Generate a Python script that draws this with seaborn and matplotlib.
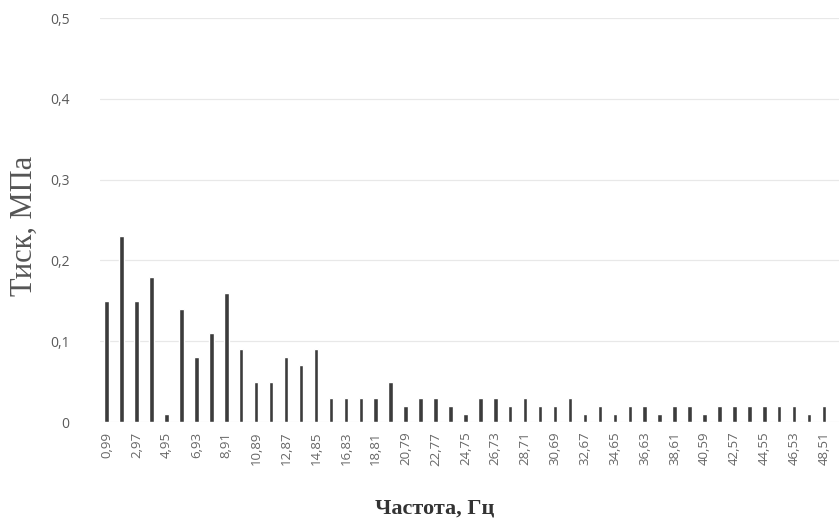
import matplotlib
matplotlib.use("Agg")
import matplotlib.pyplot as plt
import seaborn as sns

# Частоти (Гц) та тиск (МПа)
freqs = [0.99, 1.98, 2.97, 3.96, 4.95, 5.94, 6.93, 7.92, 8.91, 9.90,
         10.89, 11.88, 12.87, 13.86, 14.85, 15.84, 16.83, 17.82, 18.81, 19.80,
         20.79, 21.78, 22.77, 23.76, 24.75, 25.74, 26.73, 27.72, 28.71, 29.70,
         30.69, 31.68, 32.67, 33.66, 34.65, 35.64, 36.63, 37.62, 38.61, 39.60,
         40.59, 41.58, 42.57, 43.56, 44.55, 45.54, 46.53, 47.52, 48.51]
pressure = [0.15, 0.23, 0.15, 0.18, 0.01, 0.14, 0.08, 0.11, 0.16, 0.09,
            0.05, 0.05, 0.08, 0.07, 0.09, 0.03, 0.03, 0.03, 0.03, 0.05,
            0.02, 0.03, 0.03, 0.02, 0.01, 0.03, 0.03, 0.02, 0.03, 0.02,
            0.02, 0.03, 0.01, 0.02, 0.01, 0.02, 0.02, 0.01, 0.02, 0.02,
            0.01, 0.02, 0.02, 0.02, 0.02, 0.02, 0.02, 0.01, 0.02]
y_ticks = [0, 0.1, 0.2, 0.3, 0.4, 0.5]

labels = [f"{f:.2f}".replace(".", ",") for f in freqs]

sns.set_style("white")
fig = plt.figure(figsize=(8.39, 5.27), dpi=100)
ax = fig.add_axes([100 / 839, 105 / 527, 739 / 839, 404 / 527])

sns.barplot(x=labels, y=pressure, order=labels, color="#3c3c3c",
            width=0.3, saturation=1, ax=ax)

ax.set_ylim(0, 0.5)
ax.set_xlim(-0.45, 49.0)
ax.set_yticks(y_ticks)
ax.set_yticklabels(["0" if v == 0 else f"{v:.1f}".replace(".", ",") for v in y_ticks],
                   fontsize=10, color="#5a5a5a", family="Open Sans")
ax.set_xticks(range(0, len(labels), 2))
ax.set_xticklabels(labels[::2], rotation=90, fontsize=9.5, color="#666666",
                   family="Open Sans")
ax.tick_params(axis="y", length=0, pad=22)
ax.tick_params(axis="x", length=0, pad=7)
ax.yaxis.grid(True, color="#e8e8e8", linewidth=0.9)
ax.set_axisbelow(True)
for s in ax.spines.values():
    s.set_visible(False)

ax.set_ylabel("Тиск, МПа", fontsize=22, family="Liberation Serif",
              color="#555555")
ax.yaxis.set_label_coords(-0.083, 0.485)
ax.set_xlabel("Частота, Гц", fontsize=16, family="Liberation Serif",
              color="#333333", fontweight="bold")
ax.xaxis.set_label_coords(0.453, -0.19)

fig.savefig("out.png", dpi=100)
